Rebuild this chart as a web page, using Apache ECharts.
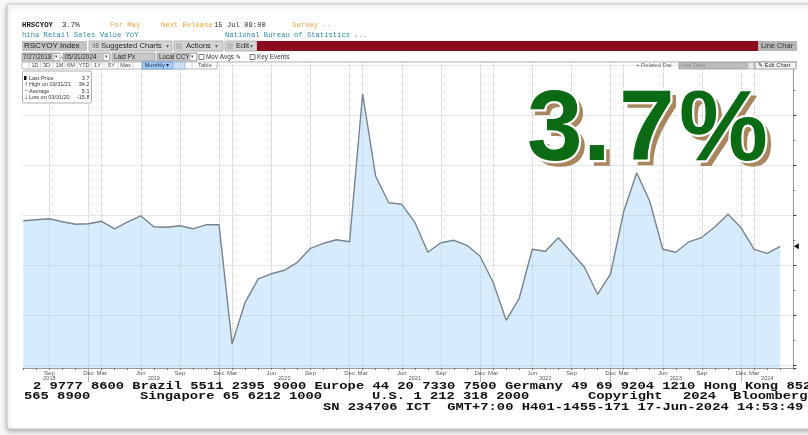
<!DOCTYPE html>
<html>
<head>
<meta charset="utf-8">
<script src="https://cdn.jsdelivr.net/npm/echarts@6/dist/echarts.min.js"></script>
<style>
html,body{margin:0;padding:0;background:#f7f7f7;}
#c{width:808px;height:435px;}
</style>
</head>
<body>
<div id="c"></div>
<script>
// ---- data (China Retail Sales Value YoY, %, Jan/Feb not published separately) ----
const dates = [
 '2018-07','2018-08','2018-09','2018-10','2018-11','2018-12',
 '2019-03','2019-04','2019-05','2019-06','2019-07','2019-08','2019-09','2019-10','2019-11','2019-12',
 '2020-03','2020-04','2020-05','2020-06','2020-07','2020-08','2020-09','2020-10','2020-11','2020-12',
 '2021-03','2021-04','2021-05','2021-06','2021-07','2021-08','2021-09','2021-10','2021-11','2021-12',
 '2022-03','2022-04','2022-05','2022-06','2022-07','2022-08','2022-09','2022-10','2022-11','2022-12',
 '2023-03','2023-04','2023-05','2023-06','2023-07','2023-08','2023-09','2023-10','2023-11','2023-12',
 '2024-03','2024-04','2024-05'
];
const retailYoY = [
 8.8, 9.0, 9.2, 8.6, 8.1, 8.2,
 8.7, 7.2, 8.6, 9.8, 7.6, 7.5, 7.8, 7.2, 8.0, 8.0,
 -15.8, -7.5, -2.8, -1.8, -1.1, 0.5, 3.3, 4.3, 5.0, 4.6,
 34.2, 17.7, 12.4, 12.1, 8.5, 2.5, 4.4, 4.9, 3.9, 1.7,
 -3.5, -11.1, -6.7, 3.1, 2.7, 5.4, 2.5, -0.5, -5.9, -1.8,
 10.6, 18.4, 12.7, 3.1, 2.5, 4.6, 5.5, 7.6, 10.1, 7.4,
 3.1, 2.3, 3.7
];
const padCategory = '2024-06';
const quarterMonthLabels = {'03':'Mar','06':'Jun','09':'Sep','12':'Dec'};
const yearLabelAt = {'2018-09':'2018','2019-07':'2019','2020-07':'2020','2021-07':'2021','2022-07':'2022','2023-07':'2023','2024-04':'2024'};
const headline = '3.7%';

// ---- derived ----
const categories = dates.concat([padCategory]);
const lastVal = retailYoY[retailYoY.length-1];
let hi = -Infinity, lo = Infinity, hiI = 0, loI = 0, sum = 0;
retailYoY.forEach((v,i)=>{ sum += v; if(v>hi){hi=v;hiI=i;} if(v<lo){lo=v;loI=i;} });
const avg = (sum/retailYoY.length).toFixed(1);
function endDate(d){ const y=+d.slice(0,4), m=+d.slice(5); const last=new Date(y,m,0).getDate(); return d.slice(5)+'/'+last+'/'+d.slice(2,4); }
const isQuarterTick = v => v !== padCategory && quarterMonthLabels[v.slice(5)] !== undefined;

const MONO = '"Liberation Mono","DejaVu Sans Mono",monospace';
const SANS = '"Liberation Sans",Arial,sans-serif';
function txt(x,y,text,size,color,o){ o=o||{}; return {type:'text',x:x,y:y,z:o.z||60,silent:true,scaleY:o.sy||1,
  style:{text:text,font:(o.w||'normal')+' '+size+'px '+(o.f||SANS),fill:color,align:o.a||'left',verticalAlign:'middle',
  stroke:o.stroke,lineWidth:o.lw||0}}; }
function box(x,y,w,h,fill,stroke,o){ o=o||{}; return {type:'rect',z:o.z||55,silent:true,shape:{x:x,y:y,width:w,height:h,r:o.r||0},
  style:{fill:fill,stroke:stroke||null,lineWidth:stroke?0.8:0}}; }
function line(x1,y1,x2,y2,c,w,z){ return {type:'line',z:z||56,silent:true,shape:{x1:x1,y1:y1,x2:x2,y2:y2},style:{stroke:c,lineWidth:w||0.8}}; }

const g = [];
// frame
g.push({type:'rect',z:-10,silent:true,shape:{x:7,y:4,width:900,height:425,r:3},
  style:{fill:'#ffffff',stroke:'#c9c9c9',lineWidth:1.2,shadowBlur:5,shadowOffsetY:2,shadowColor:'rgba(0,0,0,0.3)'}});
// header row 1 & 2
g.push(txt(22,25,'HRSCYOY',7.4,'#1e1e1e',{f:MONO,w:'bold'}));
g.push(txt(62,25,lastVal.toFixed(1)+'%',7.4,'#1e1e1e',{f:MONO}));
g.push(txt(110,25,'For May',7.2,'#eda443',{f:MONO}));
g.push(txt(161,25,'Next Release',7.2,'#eda443',{f:MONO}));
g.push(txt(214,25,'15 Jul 09:00',7.2,'#333',{f:MONO}));
g.push(txt(292,25,'Survey --',7.2,'#eda443',{f:MONO}));
g.push(txt(22,35,'hina Retail Sales Value YoY',7.2,'#2f8ca3',{f:MONO}));
g.push(txt(225,35,'National Bureau of Statistics ...',7.2,'#2f8ca3',{f:MONO}));
// row 3 toolbar
g.push(box(22,41,65,10,'#c2c2c2'));
g.push(txt(24,46,'RSCYOY Index',8,'#1a1a1a'));
g.push(box(89,41,83,10,'#d5d5d5','#a5a5a5'));
g.push(txt(92,46,'98',6.5,'#666'));
g.push(txt(101,46,'Suggested Charts',7.6,'#222'));
g.push(txt(166,46,'▾',6,'#666'));
g.push(box(174,41,49,10,'#d5d5d5','#a5a5a5'));
g.push(box(176,43,6,6,'#bbbbbb'));
g.push(txt(186,46,'Actions',7.6,'#222'));
g.push(txt(215,46,'▾',6,'#666'));
g.push(box(225,41,32,10,'#d5d5d5','#a5a5a5'));
g.push(box(227,43,6,6,'#bbbbbb'));
g.push(txt(236,46,'Edit',7.6,'#222'));
g.push(txt(250,46,'▾',6,'#666'));
g.push(box(257,41,501,10,'#8b0c1c'));
g.push(box(758,41,39,10,'#b6b6b6'));
g.push(txt(761,46,'Line Char',7.4,'#333'));
// row 4
g.push(box(22,53,38,8,'#c8c8c8','#999'));
g.push(txt(23,57,'7/27/2018',6.4,'#222'));
g.push(box(54.5,54,5,6,'#fff'));
g.push(txt(55,57,'▾',5,'#444'));
g.push(txt(60.5,57,'-',6.4,'#333'));
g.push(box(63,53,47,8,'#c8c8c8','#999'));
g.push(txt(64.5,57,'05/31/2024',6.4,'#222'));
g.push(box(104,54,5,6,'#fff'));
g.push(txt(104.5,57,'▾',5,'#444'));
g.push(box(112,53,43,8,'#c8c8c8','#999'));
g.push(txt(114,57,'Last Px',6.4,'#222'));
g.push(box(157,53,40,8,'#c8c8c8','#999'));
g.push(txt(159,57,'Local CCY',6.4,'#222'));
g.push(box(190.5,54,5.5,6,'#fff'));
g.push(txt(191,57,'▾',5,'#444'));
g.push(box(199,54.5,5,5,'#fff','#555'));
g.push(txt(206,57,'Mov Avgs ✎',6.4,'#333'));
g.push(box(250,54.5,5,5,'#fff','#555'));
g.push(txt(257,57,'Key Events',6.4,'#333'));
g.push(line(217,61.8,797,61.8,'#b0b0b0',0.8));
// row 5
g.push(box(22,62,195,7,'#ffffff','#a8a8a8'));
[['1D',35],['3D',46.5],['1M',59.5],['6M',71],['YTD',84],['1Y',97.5],['5Y',111.5],['Max',125.5]].forEach(p=>g.push(txt(p[1],65.6,p[0],5.6,'#444',{a:'center'})));
[29,40.5,53,65,77,91,104,118,133,142,192].forEach(x=>g.push(line(x,62.5,x,68.5,'#b5b5b5',0.6)));
g.push(box(142,62,31,7,'#a9cdf3','#5b93d6'));
g.push(txt(144.5,65.6,'Monthly ▾',5.8,'#0f2a55'));
g.push(box(173,62,12,7,'#c9def5','#8fb5e3'));
g.push(txt(198,65.6,'Table',5.8,'#555'));
g.push(txt(636,65.6,'+ Related Dat',5.8,'#666'));
g.push(box(679,62.5,68,6.5,'#bdbdbd','#999'));
g.push(txt(681,65.6,'Add Data',5.8,'#8c8c8c'));
g.push(box(748,62.5,6,6.5,'#e6e6e6','#aaa'));
g.push(box(755,62,41,7,'#f3f3f3','#888'));
g.push(txt(758,65.6,'✎ Edit Chart',5.8,'#333'));
// legend box
g.push(box(22.5,71,69,32,'#ffffff','#9a9a9a',{r:2,z:70}));
g.push(box(24,76,2.5,4,'#111',null,{z:71}));
const legRows = [
 ['', 'Last Price', lastVal.toFixed(1), 78],
 ['↑', 'High on '+endDate(dates[hiI]), hi.toFixed(1), 84.5],
 ['~', 'Average', avg, 91],
 ['↓', 'Low on '+endDate(dates[loI]), lo.toFixed(1), 97.5]
];
legRows.forEach(r=>{
  if(r[0]) g.push(txt(24,r[3],r[0],5,'#555',{z:72,f:'"DejaVu Sans",sans-serif'}));
  g.push(txt(29,r[3],r[1],5.5,'#333',{z:72}));
  g.push(txt(89.5,r[3],r[2],5.5,'#333',{z:72,a:'right'}));
});
// big headline, one glyph at a time for the wide spacing
const bigFont = 'bold 100px "Liberation Sans",Arial,sans-serif';
const glyphX = [527, 583, 619, 679];
const glyphY = 132;
headline.split('').forEach((ch,i)=>{
  const x = glyphX[i], y = glyphY;
  g.push({type:'text',x:x+5,y:y+5,z:80,silent:true,style:{text:ch,font:bigFont,fill:'#a8865e',stroke:'#a8865e',lineWidth:1.5,verticalAlign:'middle'}});
  g.push({type:'text',x:x,y:y,z:81,silent:true,style:{text:ch,font:bigFont,fill:'#ffffff',stroke:'#ffffff',lineWidth:4.5,verticalAlign:'middle'}});
});
headline.split('').forEach((ch,i)=>{
  g.push({type:'text',x:glyphX[i],y:glyphY,z:82,silent:true,style:{text:ch,font:bigFont,fill:'#0b6a14',verticalAlign:'middle'}});
});
// footer
const FO = {f:MONO,w:'bold',sy:0.82};
g.push(txt(33,386,'2 9777 8600 Brazil 5511 2395 9000 Europe 44 20 7330 7500 Germany 49 69 9204 1210 Hong Kong 852',13.8,'#111',FO));
[['565 8900',24],['Singapore 65 6212 1000',140],['U.S. 1 212 318 2000',372],['Copyright',588],['2024',683],['Bloomberg',733]].forEach(p=>g.push(txt(p[1],396.5,p[0],13.8,'#111',FO)));
g.push(txt(323,407,'SN 234706 ICT  GMT+7:00 H401-1455-171 17-Jun-2024 14:53:49',13.8,'#111',FO));

const chart = echarts.init(document.getElementById('c'), null, {renderer:'canvas'});
chart.setOption({
  backgroundColor:'transparent',
  animation:false,
  grid:{left:23.3,right:14.7,top:62,bottom:67,containLabel:false},
  xAxis:[
    {type:'category',data:categories,boundaryGap:false,
     axisLine:{onZero:false,lineStyle:{color:'#9a9a9a',width:1}},
     axisTick:{show:true,interval:0,length:2,lineStyle:{color:'#777'}},
     axisLabel:{interval:(i,v)=>isQuarterTick(v),formatter:v=>quarterMonthLabels[v.slice(5)],fontSize:6,color:'#555',margin:2,fontFamily:SANS},
     splitLine:{show:true,interval:(i,v)=>isQuarterTick(v),lineStyle:{type:'dotted',color:'#cccccc',width:1}}},
    {type:'category',data:categories,boundaryGap:false,position:'bottom',
     axisLine:{show:false,onZero:false},axisTick:{show:false},splitLine:{show:false},
     axisLabel:{interval:(i,v)=>yearLabelAt[v]!==undefined,formatter:v=>yearLabelAt[v]||'',fontSize:5.5,color:'#555',margin:7.5,fontFamily:SANS}},
    {type:'category',data:categories,boundaryGap:false,position:'bottom',
     axisLine:{show:false,onZero:false},axisLabel:{show:false},splitLine:{show:false},
     axisTick:{show:true,interval:(i,v)=>v.slice(5)==='12',length:14,lineStyle:{color:'#a0a0a0',width:0.8}}}
  ],
  yAxis:{type:'value',position:'right',min:-20.64,max:40.56,
    axisLine:{show:true,lineStyle:{color:'#9a9a9a',width:1}},
    axisTick:{show:true,length:3,lineStyle:{color:'#333'}},
    minorTick:{show:true,splitNumber:2,length:2,lineStyle:{color:'#777'}},
    axisLabel:{show:false},
    splitLine:{show:true,lineStyle:{type:'dotted',color:'#cccccc',width:1}}},
  series:[{
    type:'line',data:retailYoY,xAxisIndex:0,symbol:'none',smooth:false,
    lineStyle:{color:'#78838f',width:1.4},
    areaStyle:{color:'rgba(140,202,246,0.5)',origin:'start'},
    markPoint:{silent:true,symbol:'path://M0,5 L8,0 L8,10 Z',symbolSize:[5,6],symbolOffset:[3,0],
      itemStyle:{color:'#111'},label:{show:false},
      data:[{coord:[padCategory,lastVal]}]}
  }],
  graphic:g
});
</script>
</body>
</html>
